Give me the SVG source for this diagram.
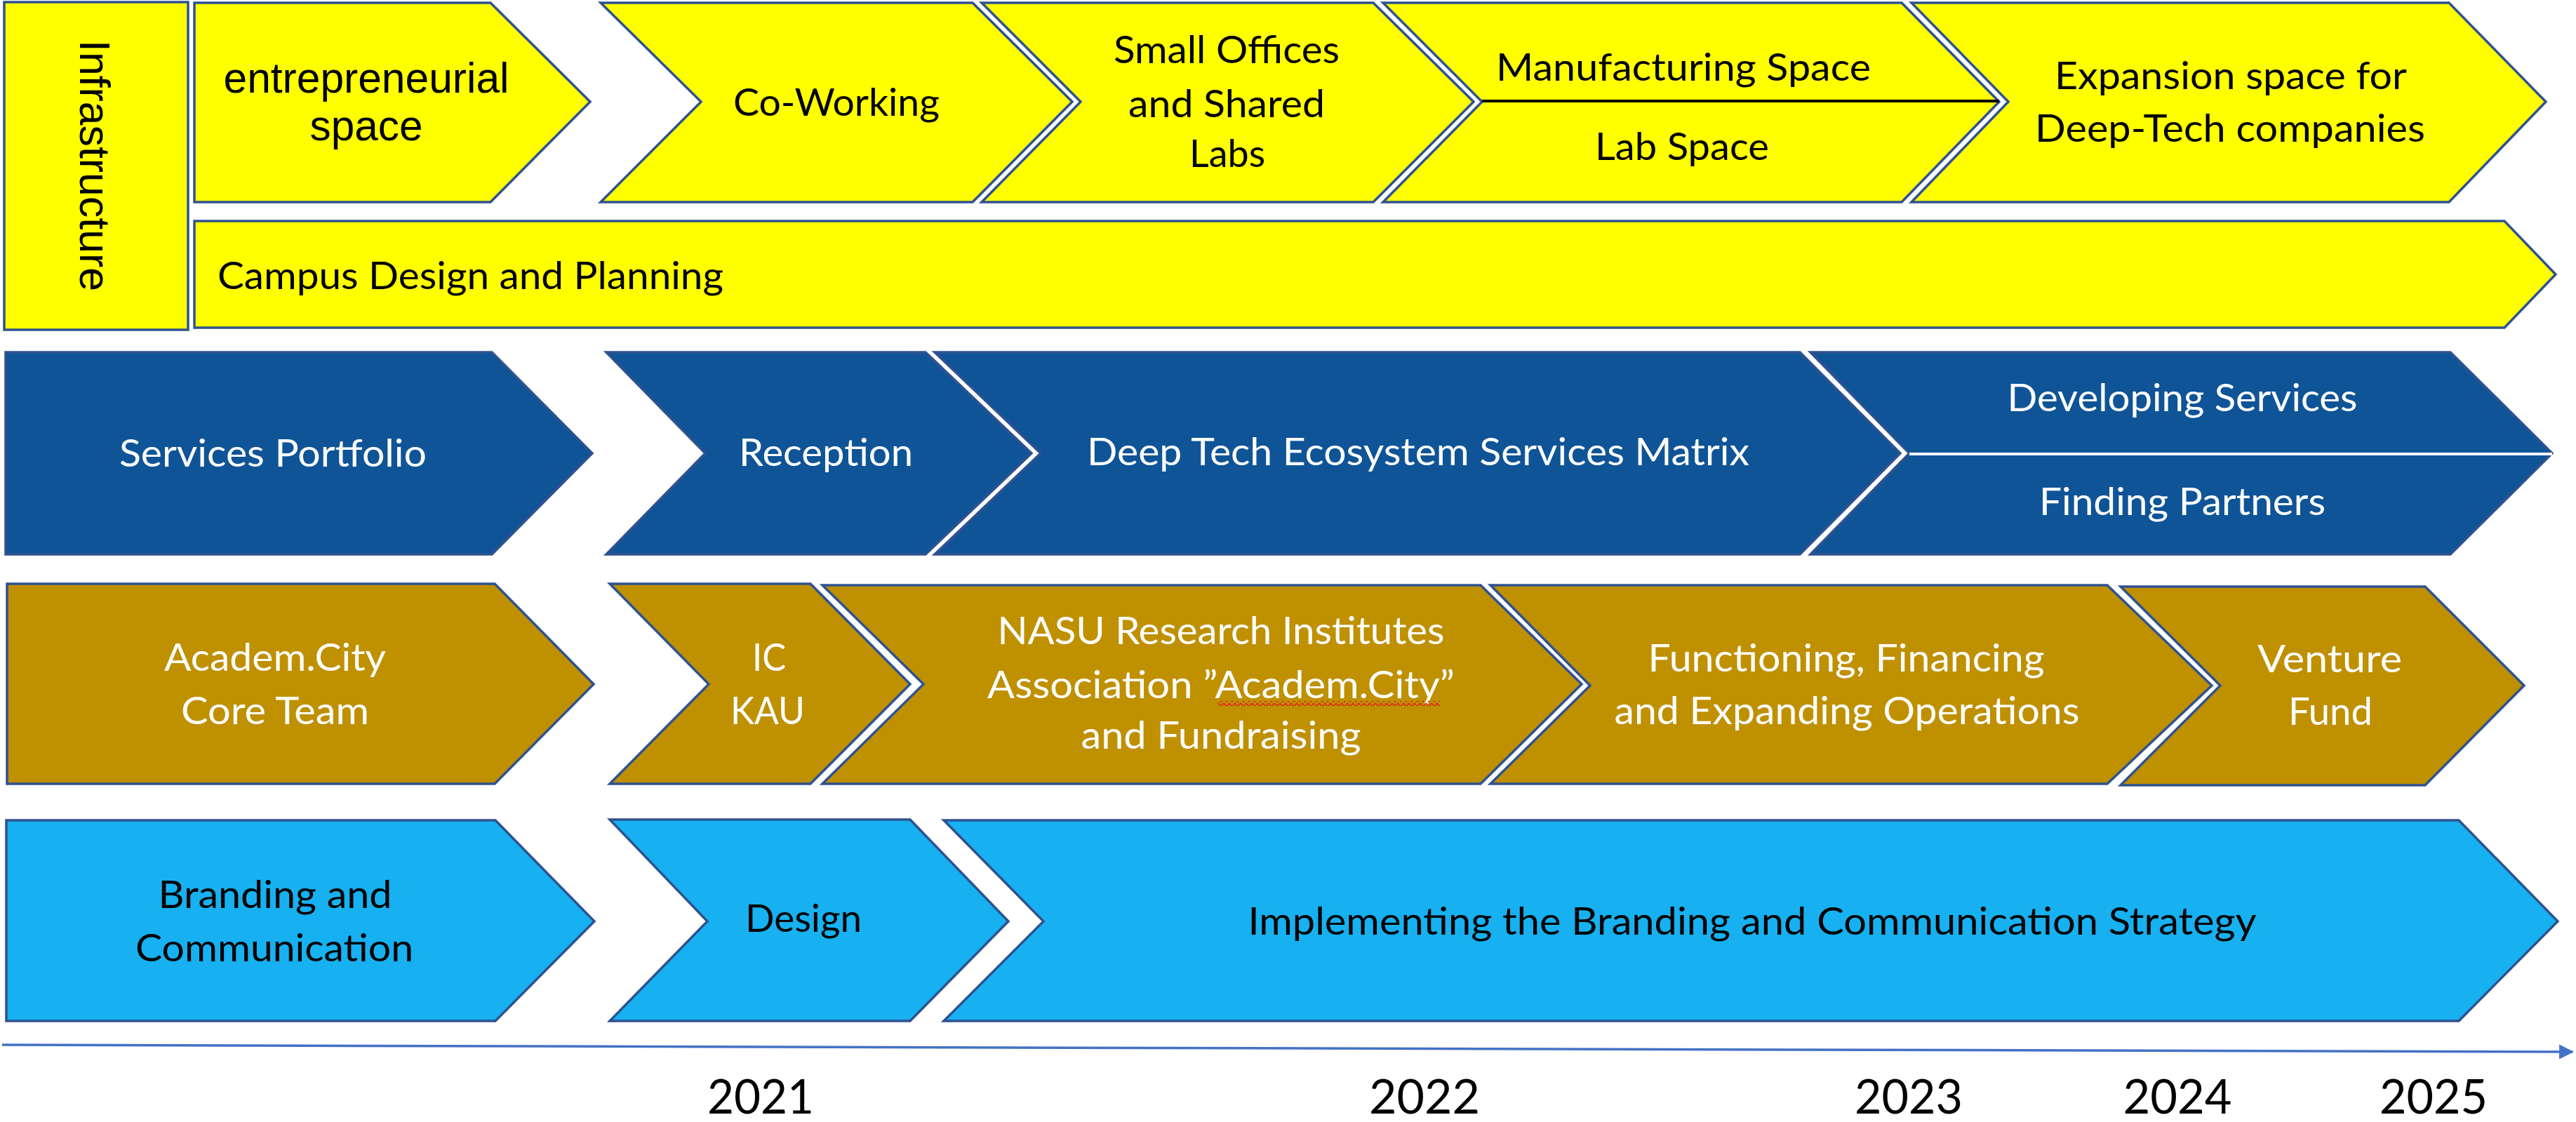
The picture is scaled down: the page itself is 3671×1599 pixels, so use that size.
<svg xmlns="http://www.w3.org/2000/svg" width="3671" height="1599" viewBox="0 0 3671 1599">
<defs>
<style>
.shape{stroke:#2F528F;stroke-width:3.5;stroke-linejoin:miter}
.yel{fill:#FFFF00}
.dkb{fill:#0F5497}
.gold{fill:#BF9000}
.ltb{fill:#17B0F0}
.t{font-family:Lato,"Open Sans",sans-serif;font-size:54px;text-anchor:middle}
.a{font-family:"Liberation Sans",Arial,sans-serif;font-size:61px;text-anchor:middle}
.blk{fill:#000000}
.wht{fill:#FFFFFF}
.yr{font-family:Lato,"Open Sans",sans-serif;font-size:68px;text-anchor:middle;fill:#000000}
</style>
<marker id="axisArrow" viewBox="0 0 10 10" refX="9" refY="5" markerWidth="6" markerHeight="6" orient="auto" markerUnits="strokeWidth">
<path d="M0,0 L10,5 L0,10 Z" fill="#4472C4"/>
</marker>
<pattern id="squiggle" x="0" y="0" width="8" height="7" patternUnits="userSpaceOnUse">
<path d="M0,1 L4,6 L8,1" fill="none" stroke="#E02020" stroke-width="1.6"/>
</pattern>
</defs>
<rect width="3671" height="1599" fill="#FFFFFF"/>

<!-- Row 1: Infrastructure -->
<g id="infrastructure">
<rect class="shape yel" x="6" y="3" width="262" height="467"/>
<text class="a blk" transform="translate(114,236) rotate(90)" textLength="358" lengthAdjust="spacingAndGlyphs">Infrastructure</text>
</g>
<g id="entrepreneurial-space">
<polygon class="shape yel" points="277,4 699,4 841,145 699,288 277,288"/>
<text class="a blk" x="522" y="132" textLength="407" lengthAdjust="spacingAndGlyphs">entrepreneurial</text>
<text class="a blk" x="522" y="200" textLength="161" lengthAdjust="spacingAndGlyphs">space</text>
</g>
<g id="co-working">
<polygon class="shape yel" points="856,4 1386,4 1528,145 1386,288 856,288 999,145"/>
<text class="t blk" x="1192" y="165" textLength="294" lengthAdjust="spacingAndGlyphs">Co-Working</text>
</g>
<g id="small-offices">
<polygon class="shape yel" points="1399,4 1957,4 2100,145 1957,288 1399,288 1540,145"/>
<text class="t blk" x="1748" y="90" textLength="322" lengthAdjust="spacingAndGlyphs">Small Offices</text>
<text class="t blk" x="1748" y="167" textLength="280" lengthAdjust="spacingAndGlyphs">and Shared</text>
<text class="t blk" x="1749" y="238" textLength="108" lengthAdjust="spacingAndGlyphs">Labs</text>
</g>
<g id="manufacturing-lab-space">
<polygon class="shape yel" points="1971,4 2710,4 2849,145 2710,288 1971,288 2112,145"/>
<line x1="2112" y1="144" x2="2849" y2="144" stroke="#000000" stroke-width="4"/>
<text class="t blk" x="2399" y="115" textLength="534" lengthAdjust="spacingAndGlyphs">Manufacturing Space</text>
<text class="t blk" x="2397" y="228" textLength="248" lengthAdjust="spacingAndGlyphs">Lab Space</text>
</g>
<g id="expansion-space">
<polygon class="shape yel" points="2724,4 3490,4 3628,145 3490,288 2724,288 2862,145"/>
<text class="t blk" x="3179" y="127" textLength="502" lengthAdjust="spacingAndGlyphs">Expansion space for</text>
<text class="t blk" x="3178" y="202" textLength="556" lengthAdjust="spacingAndGlyphs">Deep-Tech companies</text>
</g>
<g id="campus-design">
<polygon class="shape yel" points="277,315 3569,315 3642,391 3569,467 277,467"/>
<text class="t blk" x="310" y="412" textLength="721" lengthAdjust="spacingAndGlyphs" style="text-anchor:start">Campus Design and Planning</text>
</g>

<!-- Row 2: Services -->
<g id="services-portfolio">
<polygon class="shape dkb" points="8,502 701,502 844,646 701,790 8,790"/>
<text class="t wht" x="389" y="665" textLength="438" lengthAdjust="spacingAndGlyphs">Services Portfolio</text>
</g>
<g id="reception">
<polygon class="shape dkb" points="864,502 1319,502 1470,646 1319,790 864,790 1005,646"/>
<text class="t wht" x="1177" y="664" textLength="248" lengthAdjust="spacingAndGlyphs">Reception</text>
</g>
<g id="deep-tech-matrix">
<polygon class="shape dkb" points="1332,502 2565,502 2708,646 2565,790 1332,790 1483,646"/>
<text class="t wht" x="2021" y="663" textLength="944" lengthAdjust="spacingAndGlyphs">Deep Tech Ecosystem Services Matrix</text>
</g>
<g id="developing-finding">
<polygon class="shape dkb" points="2580,502 3492,502 3637,646 3492,790 2580,790 2721,646"/>
<line x1="2721" y1="647" x2="3637" y2="647" stroke="#FFFFFF" stroke-width="4"/>
<text class="t wht" x="3110" y="586" textLength="499" lengthAdjust="spacingAndGlyphs">Developing Services</text>
<text class="t wht" x="3110" y="734" textLength="408" lengthAdjust="spacingAndGlyphs">Finding Partners</text>
</g>

<!-- Row 3: Organisation -->
<g id="academ-city-core-team">
<polygon class="shape gold" points="10,832 705,832 846,975 705,1117 10,1117"/>
<text class="t wht" x="392" y="956" textLength="316" lengthAdjust="spacingAndGlyphs">Academ.City</text>
<text class="t wht" x="392" y="1032" textLength="268" lengthAdjust="spacingAndGlyphs">Core Team</text>
</g>
<g id="ic-kau">
<polygon class="shape gold" points="869,832 1155,832 1297,975 1155,1117 869,1117 1010,975"/>
<text class="t wht" x="1096" y="956" textLength="48" lengthAdjust="spacingAndGlyphs">IC</text>
<text class="t wht" x="1094" y="1032" textLength="106" lengthAdjust="spacingAndGlyphs">KAU</text>
</g>
<g id="nasu-association">
<polygon class="shape gold" points="1172,834 2110,834 2254,975 2110,1117 1172,1117 1316,975"/>
<text class="t wht" x="1740" y="918" textLength="637" lengthAdjust="spacingAndGlyphs">NASU Research Institutes</text>
<text class="t wht" x="1740" y="995" textLength="666" lengthAdjust="spacingAndGlyphs">Association ”Academ.City”</text>
<rect x="1736" y="999" width="316" height="7" fill="url(#squiggle)"/>
<text class="t wht" x="1740" y="1067" textLength="399" lengthAdjust="spacingAndGlyphs">and Fundraising</text>
</g>
<g id="functioning-financing">
<polygon class="shape gold" points="2124,834 3003,834 3152,977 3003,1117 2124,1117 2266,977"/>
<text class="t wht" x="2631" y="957" textLength="565" lengthAdjust="spacingAndGlyphs">Functioning, Financing</text>
<text class="t wht" x="2632" y="1032" textLength="663" lengthAdjust="spacingAndGlyphs">and Expanding Operations</text>
</g>
<g id="venture-fund">
<polygon class="shape gold" points="3022,836 3456,836 3597,977 3456,1119 3022,1119 3164,977"/>
<text class="t wht" x="3320" y="958" textLength="206" lengthAdjust="spacingAndGlyphs">Venture</text>
<text class="t wht" x="3321" y="1033" textLength="120" lengthAdjust="spacingAndGlyphs">Fund</text>
</g>

<!-- Row 4: Branding -->
<g id="branding-communication">
<polygon class="shape ltb" points="9,1169 706,1169 847,1313 706,1455 9,1455"/>
<text class="t blk" x="392" y="1294" textLength="333" lengthAdjust="spacingAndGlyphs">Branding and</text>
<text class="t blk" x="391" y="1370" textLength="396" lengthAdjust="spacingAndGlyphs">Communication</text>
</g>
<g id="design">
<polygon class="shape ltb" points="869,1168 1297,1168 1437,1313 1297,1455 869,1455 1008,1313"/>
<text class="t blk" x="1145" y="1328" textLength="166" lengthAdjust="spacingAndGlyphs">Design</text>
</g>
<g id="implementing-strategy">
<polygon class="shape ltb" points="1345,1169 3504,1169 3645,1313 3504,1455 1345,1455 1487,1313"/>
<text class="t blk" x="2497" y="1332" textLength="1437" lengthAdjust="spacingAndGlyphs">Implementing the Branding and Communication Strategy</text>
</g>

<!-- Timeline axis -->
<g id="connectors">
<line x1="3" y1="1489" x2="3666" y2="1499" stroke="#4472C4" stroke-width="3.5" marker-end="url(#axisArrow)"/>
</g>

<g id="years">
<text class="yr" x="1084" y="1587" textLength="152" lengthAdjust="spacingAndGlyphs">2021</text>
<text class="yr" x="2030" y="1587" textLength="158" lengthAdjust="spacingAndGlyphs">2022</text>
<text class="yr" x="2720" y="1587" textLength="154" lengthAdjust="spacingAndGlyphs">2023</text>
<text class="yr" x="3103" y="1587" textLength="155" lengthAdjust="spacingAndGlyphs">2024</text>
<text class="yr" x="3468" y="1587" textLength="154" lengthAdjust="spacingAndGlyphs">2025</text>
</g>
</svg>
